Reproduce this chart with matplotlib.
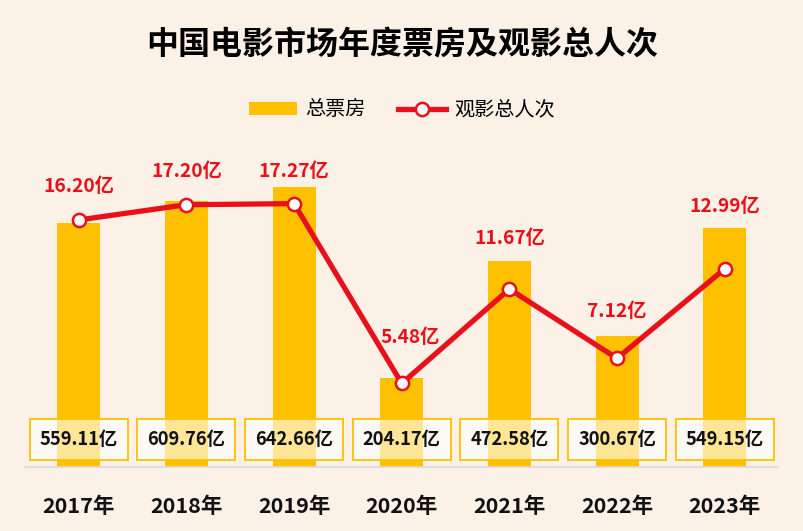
import matplotlib
matplotlib.use("Agg")
import matplotlib.pyplot as plt
import matplotlib.transforms as mtransforms
from matplotlib.patches import Rectangle
from matplotlib.lines import Line2D
from matplotlib.patches import Patch

plt.rcParams['font.family'] = ['Noto Sans CJK SC', 'DejaVu Sans']

years = ["2017年", "2018年", "2019年", "2020年", "2021年", "2022年", "2023年"]
box_office = [559.11, 609.76, 642.66, 204.17, 472.58, 300.67, 549.15]
admissions = [16.20, 17.20, 17.27, 5.48, 11.67, 7.12, 12.99]

title = "中国电影市场年度票房及观影总人次"
bar_name = "总票房"
line_name = "观影总人次"

BG = "#FCF1E7"
GOLD = "#FFC000"
RED = "#E8101A"

# label offsets in pixels (dx, dy) for line labels
label_offsets = [(0, 33), (0, 33), (0, 32), (8, 46), (0, 51), (0, 47), (0, 62)]

fig = plt.figure(figsize=(8.04, 5.31), dpi=100, facecolor=BG)
ax = fig.add_axes([25/804, 64/531, 753.5/804, 305/531])
ax.set_facecolor(BG)
ax2 = ax.twinx()

x = list(range(len(years)))
ax.bar(x, box_office, width=0.4, color=GOLD, zorder=2)
ax.set_xlim(-0.5, len(years) - 0.5)
ax.set_ylim(0, 700)
ax2.set_ylim(0, 20)

ax2.plot(x, admissions, color=RED, lw=3.8, marker='o', markersize=9.5,
         markerfacecolor='white', markeredgecolor=RED, markeredgewidth=1.8,
         zorder=5, solid_capstyle='round')

for i, v in enumerate(admissions):
    dx, dy = label_offsets[i]
    ax2.annotate(f"{v:.2f}亿", (i, v), xytext=(dx, dy), textcoords='offset pixels',
                 ha='center', va='center', color=RED, fontsize=13.8, fontweight='bold')

trans = mtransforms.blended_transform_factory(ax.transData, ax.transAxes)
for i, v in enumerate(box_office):
    ax.add_patch(Rectangle((i - 0.455, 0.023), 0.91, 0.134, transform=trans,
                           facecolor=(1, 1, 1, 0.6), edgecolor=GOLD, lw=1.3,
                           zorder=6, clip_on=False))
    ax.text(i, 0.09, f"{v:.2f}亿", transform=trans, ha='center', va='center',
            fontsize=13.2, fontweight='bold', color='#111111', zorder=7)

for a in (ax, ax2):
    for s in a.spines.values():
        s.set_visible(False)
    a.set_yticks([])
ax.spines['bottom'].set_visible(True)
ax.spines['bottom'].set_color('#D9D9D9')
ax.spines['bottom'].set_linewidth(1.2)

ax.set_xticks(x)
ax.set_xticklabels(years, fontsize=15.5, fontweight='bold', color='#111111')
ax.tick_params(axis='x', length=0, pad=21)

fig.text(0.5, 1 - 45/531, title, ha='center', va='center', fontsize=23,
         fontweight='black', color='#000000')

handles = [Patch(facecolor=GOLD, edgecolor='none'),
           Line2D([0], [0], color=RED, lw=3.8, marker='o', markersize=9.5,
                  markerfacecolor='white', markeredgecolor=RED, markeredgewidth=1.8)]
fig.legend(handles, [bar_name, line_name], loc='center',
           bbox_to_anchor=(0.5, 1 - 110/531), ncol=2, frameon=False,
           fontsize=14.5, handlelength=2.4, handleheight=0.6, columnspacing=1.6,
           handletextpad=0.4)

fig.savefig("out.png", dpi=100, facecolor=BG)
